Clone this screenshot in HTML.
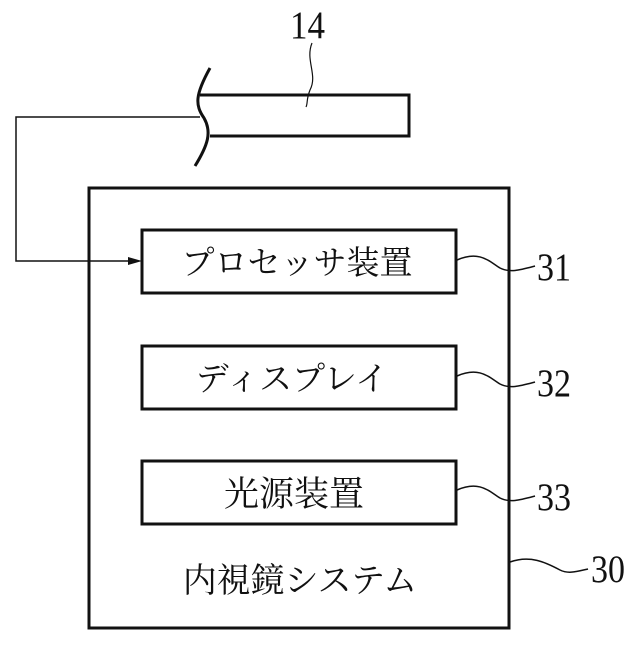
<!DOCTYPE html>
<html><head><meta charset="utf-8"><style>
body{margin:0;background:#fff;width:640px;height:640px;overflow:hidden}
text{font-family:"Liberation Serif","Noto Serif CJK SC","Noto Sans CJK JP",serif;fill:#111}
</style></head><body>
<svg width="640" height="640" viewBox="0 0 640 640" xmlns="http://www.w3.org/2000/svg">
<g fill="none" stroke="#111">
<rect x="89" y="188" width="420" height="440" stroke-width="3"/>
<rect x="142" y="230" width="314" height="63" stroke-width="3"/>
<rect x="142" y="346" width="314" height="63" stroke-width="3"/>
<rect x="142" y="461" width="314" height="63" stroke-width="3"/>
<path d="M200 95 H409 V136 H210" stroke-width="3"/>
<path d="M210 68 C195 95 195 105 204 118 C212 132 208 145 195 166" stroke-width="3"/>
<path d="M200 117 H16 V261 H132" stroke-width="1.5"/>
<path d="M312 43 C305 60 318 75 310 90 C306 100 308 103 306 107" stroke-width="1.2"/>
<path d="M457 260 C480 250 490 262 500 268 C510 273 520 270 535 266" stroke-width="1.5"/>
<path d="M457 376 C480 366 490 378 500 384 C510 389 520 386 535 382" stroke-width="1.5"/>
<path d="M457 490 C480 480 490 492 500 498 C510 503 520 500 535 496" stroke-width="1.5"/>
<path d="M510 562 C530 555 545 562 560 570 C568 574 575 572 588 569" stroke-width="1.5"/>
</g>
<polygon points="142,261 128,257 128,265" fill="#111"/>
<text x="290" y="38" font-size="39" textLength="35" lengthAdjust="spacingAndGlyphs">14</text>
<text x="537" y="280" font-size="39" textLength="34" lengthAdjust="spacingAndGlyphs">31</text>
<text x="537" y="396" font-size="39" textLength="34" lengthAdjust="spacingAndGlyphs">32</text>
<text x="537" y="510" font-size="39" textLength="34" lengthAdjust="spacingAndGlyphs">33</text>
<text x="591" y="582" font-size="39" textLength="34" lengthAdjust="spacingAndGlyphs">30</text>
<text x="297" y="274" font-size="33" text-anchor="middle">プロセッサ装置</text>
<text x="292" y="390" font-size="33" text-anchor="middle">ディスプレイ</text>
<text x="294" y="506" font-size="35" text-anchor="middle">光源装置</text>
<text x="300" y="592" font-size="34" text-anchor="middle">内視鏡システム</text>
</svg>
</body></html>
